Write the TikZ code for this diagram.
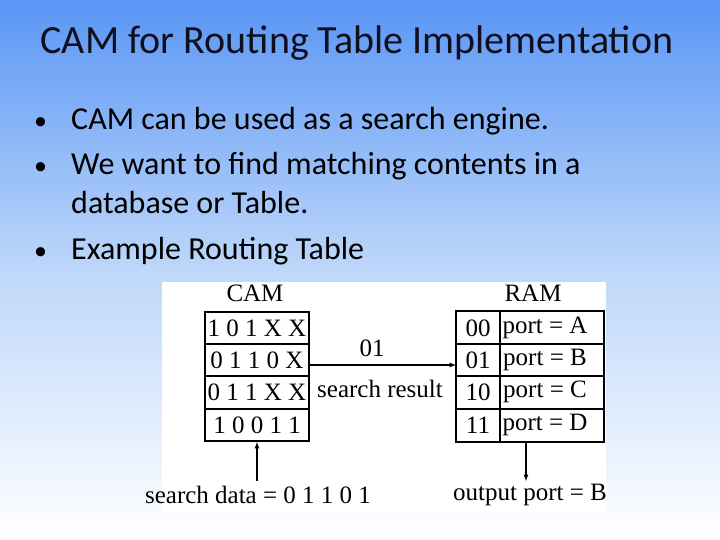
\documentclass[tikz,border=0pt]{standalone}
\usepackage{fontspec}
\setmainfont{Carlito}
\newfontfamily\tms{Liberation Serif}
\begin{document}
\begin{tikzpicture}[x=1pt,y=-1pt,
  dtxt/.style={font=\tms\fontsize{25}{27}\selectfont,inner sep=0pt},
  btxt/.style={font=\fontsize{32}{36}\selectfont,anchor=base west,inner sep=0pt},
  box/.style={draw,line width=1.6pt},
  arr/.style={-latex,line width=1.2pt}]
\shade[top color={rgb,255:red,90;green,150;blue,245},bottom color=white,middle color={rgb,255:red,190;green,215;blue,250}] (0,0) rectangle (720,540);
\useasboundingbox (0,0) rectangle (720,540);
\node[font=\fontsize{40}{44}\selectfont,text={rgb,255:red,15;green,15;blue,30}] (title) at (357,43) {CAM for Routing Table Implementation};
\foreach \yy/\t [count=\i] in {130/CAM can be used as a search engine., 175/We want to find matching contents in a, 214/database or Table., 259/Example Routing Table}{
  \node[btxt] (b\i) at (71,\yy) {\t};}
\foreach \yy in {130,175,259}{\node[btxt,font=\fontsize{26}{30}\selectfont] at (34,\yy) {•};}
\fill[white] (162,282) rectangle (606,512);
\node[dtxt] (camlbl) at (255,293) {CAM};
\node[dtxt] (ramlbl) at (533,293) {RAM};
\draw[box] (205,312) rectangle (309,441);
\foreach \yy in {344,376,409}{\draw[line width=1.2pt] (205,\yy) -- (309,\yy);}
\draw[box] (456,311) rectangle (604,442);
\draw[line width=1.2pt] (500,311) -- (500,442);
\foreach \yy in {344,376,409}{\draw[line width=1.2pt] (456,\yy) -- (604,\yy);}
\foreach \t/\yy [count=\i] in {1 0 1 X X/328,0 1 1 0 X/360,0 1 1 X X/392,1 0 0 1 1/425}{
  \node[dtxt] (c\i) at (257,\yy) {\t};}
\foreach \a/\b/\yy [count=\i] in {00/A/328,01/B/360,10/C/392,11/D/425}{
  \node[dtxt] (r\i) at (478,\yy) {\a};
  \node[dtxt] (p\i) at (545,\yy) {port = \b};}
\coordinate (camR) at (309,365);
\coordinate (ramL) at (456,365);
\draw[arr] (camR) -- (ramL);
\node[dtxt] (lbl01) at (372,348) {01};
\node[dtxt] (sr) at (380,389) {search result};
\node[dtxt] (sd) at (258,495) {search data = 0 1 1 0 1};
\node[dtxt] (op) at (530,495) {output port = B};
\coordinate (camB) at (257,442);
\coordinate (ramB) at (526,443);
\draw[arr] (257,481) -- (camB);
\draw[arr] (ramB) -- (526,481);
\end{tikzpicture}
\end{document}
